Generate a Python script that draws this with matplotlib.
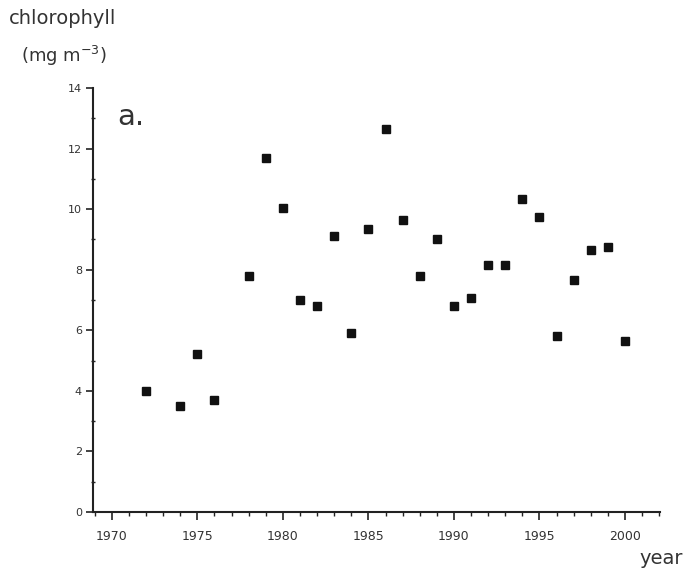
import numpy as np
import matplotlib.pyplot as plt
from matplotlib.ticker import MultipleLocator

# chlorophyll yearly means (mg m-3)
years = [1972, 1974, 1975, 1976, 1978, 1979, 1980, 1981, 1982, 1983, 1984,
         1985, 1986, 1987, 1988, 1989, 1990, 1991, 1992, 1993, 1994, 1995,
         1996, 1997, 1998, 1999, 2000]
chl = [4.0, 3.5, 5.2, 3.7, 7.8, 11.7, 10.05, 7.0, 6.8, 9.1, 5.9,
       9.35, 12.65, 9.65, 7.8, 9.0, 6.8, 7.05, 8.15, 8.15, 10.35, 9.75,
       5.8, 7.65, 8.65, 8.75, 5.65]

plt.rcParams['font.family'] = ['DejaVu Sans']
ink = '#222222'
txt = '#333333'

fig = plt.figure(figsize=(6.84, 5.73), dpi=100)
ax = fig.add_axes([0.136, 0.1065, 0.829, 0.74])

ax.plot(years, chl, 's', color='#111111', markersize=5.5, linestyle='none')

ax.set_xlim(1968.9, 2002.05)
ax.set_ylim(0, 14)

for s in ['top', 'right']:
    ax.spines[s].set_visible(False)
for s in ['left', 'bottom']:
    ax.spines[s].set_linewidth(1.5)
    ax.spines[s].set_color(ink)

ax.xaxis.set_major_locator(MultipleLocator(5))
ax.xaxis.set_minor_locator(MultipleLocator(1))
ax.yaxis.set_major_locator(MultipleLocator(2))
ax.yaxis.set_minor_locator(MultipleLocator(1))
ax.set_xticks(np.arange(1970, 2001, 5))

ax.tick_params(axis='x', which='major', direction='out', length=6, width=1.2,
               pad=7, labelsize=9, colors=ink, labelcolor=txt)
ax.tick_params(axis='x', which='minor', direction='out', length=3, width=1.0, colors=ink)
ax.tick_params(axis='y', which='major', direction='out', length=5, width=1.2,
               pad=3, labelsize=8, colors=ink, labelcolor=txt)
ax.tick_params(axis='y', which='minor', direction='inout', length=3, width=1.0, colors=ink)

fig.text(0.013, 0.968, 'chlorophyll', fontsize=14, color=txt, va='center', ha='left')
fig.text(0.031, 0.902, '(mg m$^{-3}$)', fontsize=13, color=txt, va='center', ha='left')
fig.text(0.999, 0.025, 'year', fontsize=14, color=txt, va='center', ha='right')
ax.text(0.042, 0.932, 'a.', transform=ax.transAxes, fontsize=21, color=txt,
        va='center', ha='left')

fig.savefig('out.png', dpi=100)
